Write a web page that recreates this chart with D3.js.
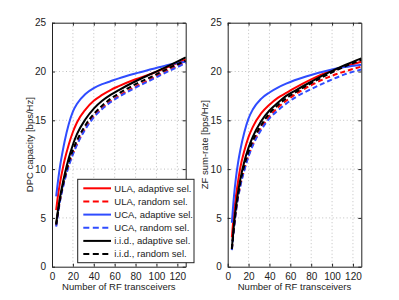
<!DOCTYPE html>
<meta charset="utf-8">
<script src="https://d3js.org/d3.v7.min.js"></script>
<style>
  body { margin: 0; background: #fff; }
  text { font-family: "Liberation Sans", Arial, Helvetica, sans-serif; fill: #222; }
</style>
<body>
<script>

// number of RF transceivers (x)
var nRF = [4, 6, 8, 10, 12, 16, 20, 24, 32, 40, 48, 56, 64, 80, 96, 112, 128];

// DPC capacity [bps/Hz]
var dpcUlaAdapt = [5.8, 7.5, 8.8, 9.9, 10.9, 12.5, 13.8, 14.8, 16.1, 17.0, 17.6, 18.1, 18.5, 19.2, 19.8, 20.5, 21.25];
var dpcUlaRand  = [4.2, 5.7, 7.0, 8.0, 8.9, 10.4, 11.6, 12.6, 14.2, 15.4, 16.25, 16.95, 17.5, 18.45, 19.3, 20.15, 20.95];
var dpcUcaAdapt = [7.2, 9.0, 10.5, 11.7, 12.8, 14.6, 15.9, 16.7, 17.7, 18.3, 18.7, 19.0, 19.3, 19.8, 20.25, 20.7, 21.0];
var dpcUcaRand  = [4.1, 5.6, 6.9, 7.9, 8.8, 10.3, 11.5, 12.5, 14.1, 15.3, 16.15, 16.85, 17.4, 18.35, 19.2, 20.05, 20.85];
var dpcIidAdapt = [4.4, 6.0, 7.3, 8.4, 9.4, 11.1, 12.5, 13.6, 15.1, 16.2, 17.0, 17.6, 18.1, 19.0, 19.8, 20.6, 21.45];
var dpcIidRand  = [4.3, 5.8, 7.1, 8.15, 9.1, 10.7, 11.95, 12.95, 14.5, 15.65, 16.5, 17.2, 17.75, 18.7, 19.5, 20.35, 21.1];

// ZF sum-rate [bps/Hz]
var zfUlaAdapt = [3.0, 5.5, 7.3, 8.8, 10.1, 11.9, 13.3, 14.3, 15.7, 16.6, 17.3, 17.8, 18.3, 19.2, 19.95, 20.5, 21.0];
var zfUlaRand  = [1.8, 4.0, 5.8, 7.2, 8.3, 10.0, 11.4, 12.5, 14.2, 15.4, 16.3, 17.0, 17.6, 18.6, 19.4, 20.0, 20.5];
var zfUcaAdapt = [4.5, 7.2, 9.2, 10.7, 11.9, 13.8, 15.2, 16.1, 17.2, 17.85, 18.35, 18.75, 19.1, 19.65, 20.1, 20.45, 20.7];
var zfUcaRand  = [1.7, 3.9, 5.7, 7.1, 8.2, 9.9, 11.3, 12.4, 14.0, 15.2, 16.0, 16.7, 17.3, 18.2, 19.0, 19.7, 20.2];
var zfIidAdapt = [1.9, 4.3, 6.2, 7.7, 8.9, 10.8, 12.2, 13.3, 14.9, 16.0, 16.8, 17.5, 18.0, 18.95, 19.85, 20.65, 21.35];
var zfIidRand  = [1.8, 4.1, 6.0, 7.4, 8.6, 10.4, 11.8, 12.9, 14.5, 15.7, 16.55, 17.25, 17.8, 18.8, 19.7, 20.5, 21.2];

var seriesNames = ["ULA, adaptive sel.", "ULA, random sel.", "UCA, adaptive sel.",
                   "UCA, random sel.", "i.i.d., adaptive sel.", "i.i.d., random sel."];
var seriesColors = ["#ff0000", "#ff0000", "#2f4cff", "#2f4cff", "#000000", "#000000"];
var seriesDashed = [false, true, false, true, false, true];

var xTicks = [0, 20, 40, 60, 80, 100, 120];
var yTicks = [0, 5, 10, 15, 20, 25];

var W = 399, H = 300;
var svg = d3.select("body").append("svg")
    .attr("width", W)
    .attr("height", H);

function drawPanel(left, right, yLabel, data, withLegend) {
    var top = 22.7, bottom = 266.7;
    var x = d3.scaleLinear().domain([0, 128]).range([left, right]);
    var y = d3.scaleLinear().domain([0, 25]).range([bottom, top]);

    var g = svg.append("g");

    // dotted grid
    g.selectAll(".vgrid")
      .data(xTicks.filter(function(d) { return d > 0; }))
      .enter().append("line")
        .attr("x1", function(d) { return x(d); })
        .attr("x2", function(d) { return x(d); })
        .attr("y1", top).attr("y2", bottom)
        .attr("stroke", "#b0b0b0")
        .attr("stroke-width", 0.8)
        .attr("stroke-dasharray", "1,2.5");
    g.selectAll(".hgrid")
      .data(yTicks.filter(function(d) { return d > 0 && d < 25; }))
      .enter().append("line")
        .attr("x1", left).attr("x2", right)
        .attr("y1", function(d) { return y(d); })
        .attr("y2", function(d) { return y(d); })
        .attr("stroke", "#b0b0b0")
        .attr("stroke-width", 0.8)
        .attr("stroke-dasharray", "1,2.5");

    // curves
    var line = d3.line()
        .x(function(d) { return x(d[0]); })
        .y(function(d) { return y(d[1]); })
        .curve(d3.curveMonotoneX);

    data.forEach(function(vals, i) {
        g.append("path")
          .datum(nRF.map(function(n, k) { return [n, vals[k]]; }))
          .attr("d", line)
          .attr("fill", "none")
          .attr("stroke", seriesColors[i])
          .attr("stroke-width", 2)
          .attr("stroke-dasharray", seriesDashed[i] ? "5,3" : null);
    });

    // box axes (ticks inward)
    var xAxisB = d3.axisBottom(x).tickValues(xTicks).tickSizeInner(-3).tickSizeOuter(0).tickPadding(6);
    var xAxisT = d3.axisTop(x).tickValues(xTicks).tickSizeInner(-3).tickSizeOuter(0).tickFormat("");
    var yAxisL = d3.axisLeft(y).tickValues(yTicks).tickSizeInner(-3).tickSizeOuter(0).tickPadding(6);
    var yAxisR = d3.axisRight(y).tickValues(yTicks).tickSizeInner(-3).tickSizeOuter(0).tickFormat("");

    var axes = [
        g.append("g").attr("transform", "translate(0," + bottom + ")").call(xAxisB),
        g.append("g").attr("transform", "translate(0," + top + ")").call(xAxisT),
        g.append("g").attr("transform", "translate(" + left + ",0)").call(yAxisL),
        g.append("g").attr("transform", "translate(" + right + ",0)").call(yAxisR)
    ];
    axes.forEach(function(a) {
        a.select(".domain").attr("stroke", "#222").attr("stroke-width", 1);
        a.selectAll(".tick line").attr("stroke", "#222");
        a.selectAll("text").style("font-size", "10px").attr("fill", "#222")
          .style("font-family", "'Liberation Sans', Arial, sans-serif");
    });

    // axis labels
    svg.append("text")
        .attr("x", (left + right) / 2)
        .attr("y", 289.5)
        .attr("text-anchor", "middle")
        .style("font-size", "9.5px")
        .text("Number of RF transceivers");

    svg.append("text")
        .attr("transform", "translate(" + (left - 19.5) + "," + ((top + bottom) / 2) + ") rotate(-90)")
        .attr("text-anchor", "middle")
        .style("font-size", "9.5px")
        .text(yLabel);

    if (withLegend) {
        var lg = svg.append("g");
        lg.append("rect")
            .attr("x", 77.7).attr("y", 179.3)
            .attr("width", 116.3).attr("height", 83.4)
            .attr("fill", "#fff")
            .attr("stroke", "#222")
            .attr("stroke-width", 1);
        seriesNames.forEach(function(name, i) {
            var cy = 188.3 + i * 13.15;
            lg.append("line")
                .attr("x1", 83.3).attr("x2", 111)
                .attr("y1", cy).attr("y2", cy)
                .attr("stroke", seriesColors[i])
                .attr("stroke-width", 2)
                .attr("stroke-dasharray", seriesDashed[i] ? "6,3.5" : null);
            lg.append("text")
                .attr("x", 114.3).attr("y", cy + 3.4)
                .style("font-size", "9.5px")
                .text(name);
        });
    }
}

drawPanel(52, 185.7, "DPC capacity [bps/Hz]",
          [dpcUlaAdapt, dpcUlaRand, dpcUcaAdapt, dpcUcaRand, dpcIidAdapt, dpcIidRand], true);
drawPanel(227.7, 361.3, "ZF sum-rate [bps/Hz]",
          [zfUlaAdapt, zfUlaRand, zfUcaAdapt, zfUcaRand, zfIidAdapt, zfIidRand], false);

</script>
</body>
